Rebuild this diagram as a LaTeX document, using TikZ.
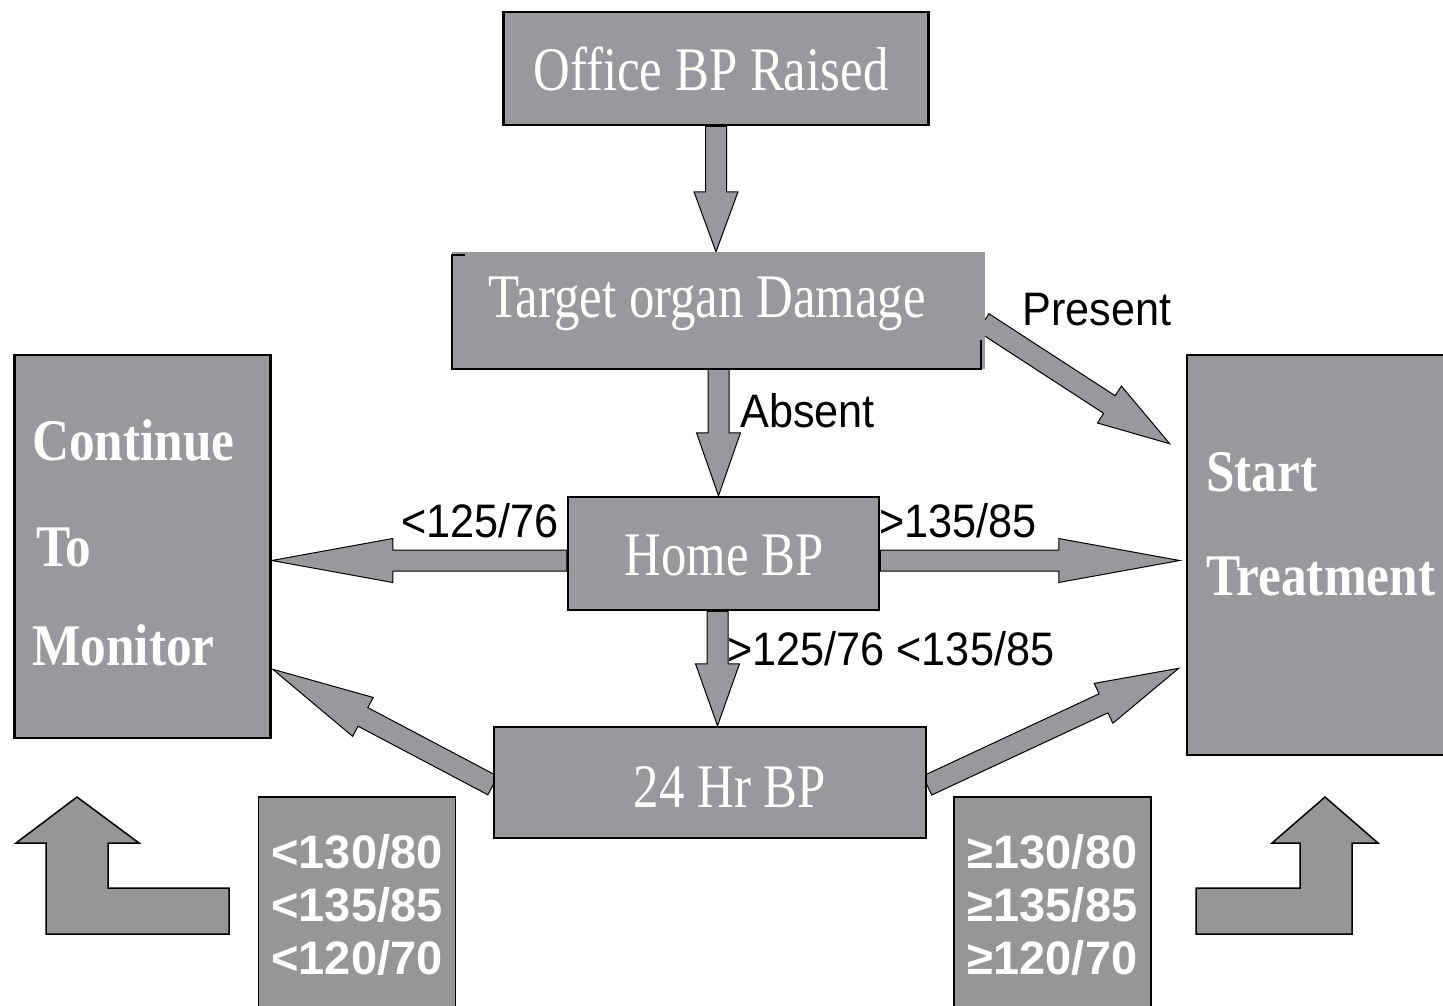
\documentclass[tikz,border=0pt]{standalone}
\usepackage{fontspec}
\usetikzlibrary{calc,backgrounds}
\newfontfamily\boxserif[FakeStretch=0.82]{Liberation Serif}
\newfontfamily\sideserif[FakeStretch=0.87]{Liberation Serif}
\newfontfamily\labelsans[FakeStretch=0.92]{Liberation Sans}
\newfontfamily\limitsans{Liberation Sans}

\begin{document}
\begin{tikzpicture}[
    x=1pt,
    y=-1pt,
    flow box/.style={fill=bpGrey, draw=black, line width=2.5pt, inner sep=0pt},
    open box/.style={fill=bpGrey, draw=none, inner sep=0pt},
    limit box/.style={fill=limitGrey, draw=black, line width=1.5pt, inner sep=0pt,
      text=white, align=center, font=\limitsans\bfseries\fontsize{47}{53}\selectfont},
    box text/.style={font=\boxserif\fontsize{62}{62}\selectfont, text=white, inner sep=0pt, anchor=base},
    side text/.style={font=\sideserif\bfseries\fontsize{59}{59}\selectfont, text=white, inner sep=0pt, anchor=base west},
    branch label/.style={font=\labelsans\fontsize{47}{47}\selectfont, text=black, inner sep=0pt},
    block arrow/.style={fill=bpGrey, draw=black, line width=1pt, line join=miter},
    bent arrow/.style={fill=limitGrey, draw=black, line width=1.5pt, line join=miter}
]

\definecolor{bpGrey}{RGB}{151,153,157}
\definecolor{limitGrey}{RGB}{150,150,150}

\newcommand{\shaftHalf}{10.5pt}
\newcommand{\headHalf}{22pt}

% Fat outlined arrow from #1 to #2, with a head #3 long.
\newcommand{\blockArrow}[3]{%
  \coordinate (ba-h) at ($(#2)!#3!(#1)$);
  \filldraw[block arrow]
    ($(#1)!\shaftHalf!90:(#2)$) -- ($(ba-h)!\shaftHalf!-90:(#1)$)
    -- ($(ba-h)!\headHalf!-90:(#1)$) -- (#2)
    -- ($(ba-h)!\headHalf!90:(#1)$) -- ($(ba-h)!\shaftHalf!90:(#1)$)
    -- ($(#1)!\shaftHalf!-90:(#2)$) -- cycle;
}

\useasboundingbox (0,0) rectangle (1443,1005);
\begin{pgfonlayer}{background}
  \fill[white] (0,0) rectangle (1443,1005);
\end{pgfonlayer}

% Flow boxes.
\node[flow box, minimum width=425pt, minimum height=113pt] (office) at (716,68.5) {};
\node[open box, minimum width=533pt, minimum height=117pt] (target) at (718.5,310.5) {};
\node[flow box, minimum width=311pt, minimum height=113pt] (home) at (723.5,553.5) {};
\node[flow box, minimum width=432pt, minimum height=111pt] (day) at (710,782.5) {};
\node[flow box, minimum width=256pt, minimum height=383pt] (cont) at (142.5,546.5) {};
\node[flow box, minimum width=300pt, minimum height=400pt] (start) at (1337,555) {};

% Target box is only partly outlined.
\draw[line width=2.5pt] ($(target.north west)+(13,3)$) -- ++(-13,0)
  -- (target.south west) -- ($(target.south east)+(-4,0)$) -- ++(0,-29);

% Box texts.
\node[box text] (office text) at (711,90) {Office BP Raised};
\node[box text] (target text) at (707,317) {Target organ Damage};
\node[box text] (home text) at (724,575) {Home BP};
\node[box text] (day text) at (730,807) {24 Hr BP};
\node[side text] (cont one) at (32,460) {Continue};
\node[side text] (cont two) at (36,566) {To};
\node[side text] (cont three) at (32,665) {Monitor};
\node[side text] (start one) at (1206,491) {Start};
\node[side text] (start two) at (1206,595) {Treatment};

% Arrow end points.
\coordinate (down-b) at (office.south |- target.north);
\coordinate (absent-b) at (target.south |- home.north);
\coordinate (pres-a) at ($(target.east)+(-2,12)$);
\coordinate (pres-b) at ($(start.north west)+(-16,90)$);
\coordinate (low-a) at ($(home.west)+(0,7)$);
\coordinate (low-b) at (cont.east |- low-a);
\coordinate (high-a) at ($(home.east)+(0,7)$);
\coordinate (high-b) at ($(start.west |- high-a)+(-6,0)$);
\coordinate (mid-a) at ($(home.south)+(-6,0)$);
\coordinate (mid-b) at (mid-a |- day.north);
\coordinate (back-a) at ($(day.west)+(0,3)$);
\coordinate (back-b) at ($(cont.south east)+(1,-70)$);
\coordinate (fwd-a) at ($(day.east)+(0,3)$);
\coordinate (fwd-b) at ($(start.south west)+(-7,-88)$);

% Flow arrows, behind the boxes.
\begin{pgfonlayer}{background}
  \blockArrow{office.south}{down-b}{60pt}
  \blockArrow{target.south}{absent-b}{63pt}
  \blockArrow{pres-a}{pres-b}{72pt}
  \blockArrow{low-a}{low-b}{121pt}
  \blockArrow{high-a}{high-b}{121pt}
  \blockArrow{mid-a}{mid-b}{62pt}
  \blockArrow{back-a}{back-b}{102pt}
  \blockArrow{fwd-a}{fwd-b}{83pt}
\end{pgfonlayer}

% Branch labels.
\node[branch label, anchor=base west] (present) at (1022,325) {Present};
\node[branch label, anchor=base west] (absent) at (740,427) {Absent};
\node[branch label, anchor=base east] (low label) at (559,537) {<125/76};
\node[branch label, anchor=base west] (high label) at (879,537) {>135/85};
\node[branch label, anchor=base west] (mid label) at (727,665) {>125/76 <135/85};

% Threshold panels.
\node[limit box, minimum width=197pt, minimum height=216pt] (lowlimit) at (357,905)
  {<130/80\\<135/85\\<120/70};
\node[limit box, minimum width=197pt, minimum height=216pt] (highlimit) at (1052.5,905)
  {≥130/80\\≥135/85\\≥120/70};

% Bent arrows.
\draw[bent arrow] (77,797) -- (139,843) -- (108,843) -- (108,888) -- (229,888)
  -- (229,934) -- (46,934) -- (46,843) -- (16,843) -- cycle;
\draw[bent arrow] (1325,797) -- (1378,843) -- (1352,843) -- (1352,934) -- (1196,934)
  -- (1196,888) -- (1300,888) -- (1300,843) -- (1272,843) -- cycle;

\end{tikzpicture}
\end{document}
